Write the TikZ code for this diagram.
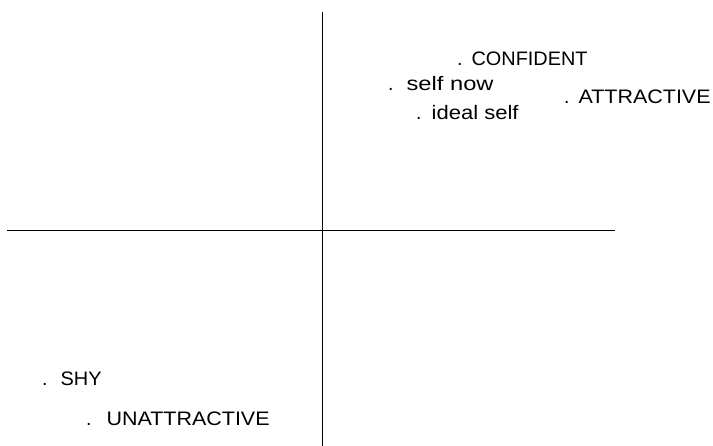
\documentclass[tikz,border=0pt]{standalone}
\usepackage{fontspec}
\setmainfont{Liberation Sans}
\usepackage{graphicx}
\newcommand\dotlabel[3]{.\hspace{#1pt}\resizebox{#2pt}{\height}{#3}}
\begin{document}
\begin{tikzpicture}[x=1pt,y=-1pt,
  axis/.style={line width=1.8pt,black},
  lbl/.style={anchor=base west,inner sep=0pt,font=\fontsize{19.5}{19.5}\selectfont}]
\useasboundingbox (0,0) rectangle (713,446);
\coordinate (vt) at (322.5,12.5);
\coordinate (vb) at (322.5,446);
\coordinate (hl) at (7,230.5);
\coordinate (hr) at (615,230.5);
\draw[axis] (vt) -- (vb);
\draw[axis] (hl) -- (hr);
\node[lbl] (conf) at (457,66) {\dotlabel{9}{116}{CONFIDENT}};
\node[lbl] (now) at (388,91) {\dotlabel{13}{87}{self now}};
\node[lbl] (ideal) at (416,120) {\dotlabel{10}{87}{ideal self}};
\node[lbl] (attr) at (564,104) {\dotlabel{9}{132}{ATTRACTIVE}};
\node[lbl] (shy) at (42,386) {\dotlabel{13}{41}{SHY}};
\node[lbl] (unattr) at (86,426) {\dotlabel{15}{163}{UNATTRACTIVE}};
\end{tikzpicture}
\end{document}
